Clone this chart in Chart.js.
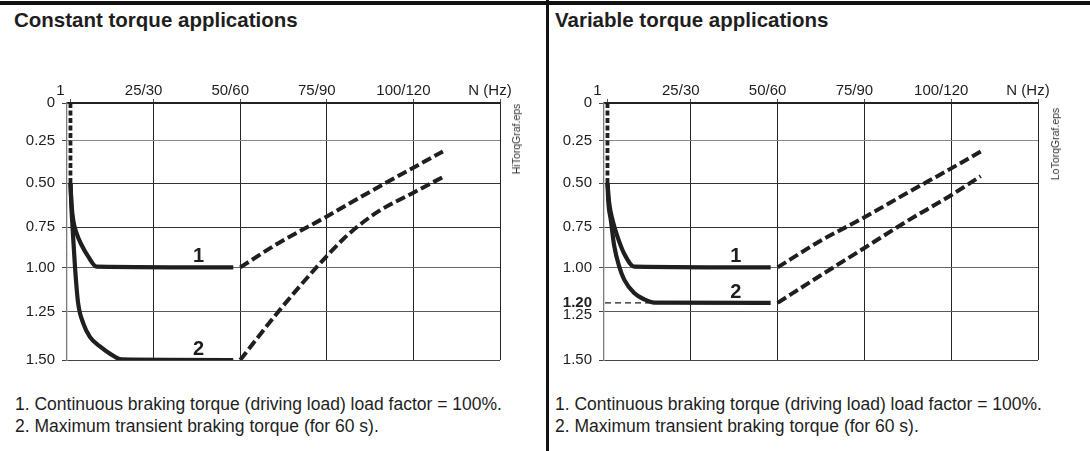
<!DOCTYPE html>
<html>
<head>
<meta charset="utf-8">
<script src="https://cdn.jsdelivr.net/npm/chart.js@4.4.1/dist/chart.umd.min.js"></script>
<style>
html,body{margin:0;padding:0;background:#fff;}
body{width:1090px;height:451px;position:relative;overflow:hidden;font-family:"Liberation Sans",Arial,Helvetica,sans-serif;color:#1e1e1e;}
.topline{position:absolute;left:0;top:1px;width:1090px;height:4px;background:#111;}
.divider{position:absolute;left:546px;top:0;width:3px;height:451px;background:#111;}
.title{position:absolute;top:8px;font-weight:bold;font-size:20.5px;line-height:24px;white-space:nowrap;}
.notes{position:absolute;top:394px;font-size:17.5px;line-height:21.5px;white-space:nowrap;}
.eps{position:absolute;font-size:10.5px;line-height:12px;color:#333;white-space:nowrap;transform:translate(-50%,-50%) rotate(-90deg);}
canvas{position:absolute;top:60px;}
</style>
</head>
<body>
<div class="topline"></div>
<div class="divider"></div>
<div class="title" style="left:14px;">Constant torque applications</div>
<div class="title" style="left:555px;">Variable torque applications</div>
<canvas id="ct" width="546" height="320" style="left:0px;width:546px;height:320px;"></canvas>
<canvas id="vt" width="541" height="320" style="left:549px;width:541px;height:320px;"></canvas>
<div class="eps" style="left:516px;top:139px;">HiTorqGraf.eps</div>
<div class="eps" style="left:1055px;top:144px;">LoTorqGraf.eps</div>
<div class="notes" style="left:15px;">1. Continuous braking torque (driving load) load factor = 100%.<br>2. Maximum transient braking torque (for 60 s).</div>
<div class="notes" style="left:555px;">1. Continuous braking torque (driving load) load factor = 100%.<br>2. Maximum transient braking torque (for 60 s).</div>
<script>
// ---------------- data ----------------
const xTickValues = [1, 25, 50, 75, 100, 125];
const xTickLabels = ['1', '25/30', '50/60', '75/90', '100/120', 'N (Hz)'];

const yTickValuesCT = [0, 0.25, 0.5, 0.75, 1.0, 1.25, 1.5];
const yTickLabelsCT = ['0', '0.25', '0.50', '0.75', '1.00', '1.25', '1.50'];
const yTickValuesVT = [0, 0.25, 0.5, 0.75, 1.0, 1.2, 1.25, 1.5];
const yTickLabelsVT = ['0', '0.25', '0.50', '0.75', '1.00', '1.20', '1.25', '1.50'];

// [frequency, torque factor]
const lowSpeedLimit = [[1, 0], [1, 0.5]];

const ctCurve1Solid  = [[1, 0.5], [1.29, 0.614], [1.78, 0.709], [2.73, 0.787], [4.17, 0.86], [6.1, 0.932], [8.5, 0.995], [48, 1.0]];
const ctCurve2Solid  = [[1, 0.5], [1.3, 0.65], [1.6, 0.75], [2.3, 0.995], [3.2, 1.2], [4.7, 1.31], [6.6, 1.38], [9.5, 1.43], [12.8, 1.472], [15.7, 1.497], [48, 1.5]];
const ctCurve1Dashed = [[50, 1.0], [61, 0.85], [75, 0.69], [87, 0.555], [100, 0.41], [108.5, 0.315]];
const ctCurve2Dashed = [[50, 1.5], [61, 1.25], [72, 1.0], [80, 0.82], [85, 0.73], [90, 0.66], [100, 0.555], [108.5, 0.465]];

const vtCurve1Solid  = [[1, 0.5], [1.5, 0.614], [2.44, 0.709], [3.88, 0.81], [5.81, 0.915], [8.69, 0.995], [48, 1.0]];
const vtCurve2Solid  = [[1, 0.5], [1.25, 0.61], [1.95, 0.709], [2.93, 0.865], [4.37, 0.994], [5.81, 1.069], [8.69, 1.145], [11.57, 1.18], [14.45, 1.199], [48, 1.2]];
const vtCurve1Dashed = [[50, 1.0], [62, 0.84], [75, 0.695], [87, 0.56], [99.5, 0.42], [108.5, 0.315]];
const vtCurve2Dashed = [[50, 1.2], [62, 1.05], [75, 0.88], [87, 0.72], [99.5, 0.575], [108.5, 0.46]];
const vtPeakRef      = [[0.3, 1.2], [13.6, 1.2]];

const ctTags = [{text: '1', x: 38, y: 1.0}, {text: '2', x: 38, y: 1.5}];
const vtTags = [{text: '1', x: 38, y: 1.0}, {text: '2', x: 38, y: 1.2}];

// ---------------- axis geometry (printed grid spacing of the original) ----------------
const warpValues = [0, 0.25, 0.5, 0.75, 1.0, 1.25, 1.5];
const warpFracs = [0, 37.4, 80, 124, 164.4, 208.7, 257].map(p => p / 257);

function interp(v, xs, ys) {
  let i = 0;
  if (v <= xs[0]) i = 0;
  else if (v >= xs[xs.length - 1]) i = xs.length - 2;
  else { while (v > xs[i + 1]) i++; }
  const t = (v - xs[i]) / (xs[i + 1] - xs[i]);
  return ys[i] + t * (ys[i + 1] - ys[i]);
}

class WarpedLinearScale extends Chart.LinearScale {
  getPixelForValue(value) {
    if (value === null || value === undefined || isNaN(value)) return NaN;
    return this.getPixelForDecimal(interp(value, warpValues, warpFracs));
  }
  getValueForPixel(pixel) {
    return interp(this.getDecimalForPixel(pixel), warpFracs, warpValues);
  }
}
WarpedLinearScale.id = 'warpedLinear';
WarpedLinearScale.defaults = Chart.LinearScale.defaults;
Chart.register(WarpedLinearScale);

Chart.defaults.font.family = '"Liberation Sans", Arial, Helvetica, sans-serif';
Chart.defaults.color = '#1e1e1e';

const curveTagPlugin = {
  id: 'curveTags',
  afterDatasetsDraw(chart, args, opts) {
    const {ctx} = chart;
    const x = chart.scales.x, y = chart.scales.y;
    ctx.save();
    ctx.font = 'bold 20px "Liberation Sans", Arial, sans-serif';
    ctx.fillStyle = '#1e1e1e';
    ctx.textAlign = 'center';
    ctx.textBaseline = 'alphabetic';
    (opts.items || []).forEach(it => {
      ctx.fillText(it.text, x.getPixelForValue(it.x), y.getPixelForValue(it.y) - 5);
    });
    ctx.restore();
  }
};

const LINE = '#1f1f1f';
function solid(data) {
  return {data, borderColor: LINE, borderWidth: 4.2, pointRadius: 0, fill: false, cubicInterpolationMode: 'monotone'};
}
function dashed(data) {
  return {data, borderColor: LINE, borderWidth: 4, borderDash: [10, 4], pointRadius: 0, fill: false, cubicInterpolationMode: 'monotone'};
}
function limitLine(data) {
  return {data, borderColor: LINE, borderWidth: 3.8, borderDash: [5, 2.5], pointRadius: 0, fill: false};
}
function thinRef(data) {
  return {data, borderColor: LINE, borderWidth: 1.3, borderDash: [6, 4], pointRadius: 0, fill: false};
}

function hGridColor(v) {
  const map = {0: '#222', 0.25: '#8a8a8a', 0.5: '#333', 0.75: '#333', 1: '#666', 1.25: '#5a5a5a', 1.5: '#444'};
  if (v === 1.2) return 'rgba(0,0,0,0)';
  return map[v] || '#444';
}

function makeChart(id, datasets, yVals, yLabels, tags, yAxisWidth, padRight, boldVal, lowerVal) {
  return new Chart(document.getElementById(id), {
    type: 'line',
    data: {datasets},
    options: {
      responsive: false,
      animation: false,
      events: [],
      layout: {padding: {left: 0, right: padRight, top: 0, bottom: 20}},
      plugins: {legend: {display: false}, tooltip: {enabled: false}, curveTags: {items: tags}},
      scales: {
        x: {
          type: 'linear', position: 'top', min: 0, max: 125,
          afterBuildTicks: s => { s.ticks = xTickValues.map(v => ({value: v})); },
          afterFit: s => { s.height = 43; },
          ticks: {
            autoSkip: false, maxRotation: 0, minRotation: 0, padding: -1, labelOffset: -10,
            color: '#1e1e1e', font: {size: 15},
            callback: (v, i) => xTickLabels[i]
          },
          grid: {
            color: c => (c.tick && c.tick.value === 1) ? 'rgba(0,0,0,0)' : '#262626',
            lineWidth: 1, drawTicks: true, tickLength: 4, tickColor: '#555'
          },
          border: {display: true, color: '#222', width: 1.2}
        },
        y: {
          type: 'warpedLinear', reverse: true, min: 0, max: 1.5,
          afterBuildTicks: s => { s.ticks = yVals.map(v => ({value: v})); },
          afterFit: s => { s.width = yAxisWidth; },
          ticks: {
            autoSkip: false, padding: 7, color: '#1e1e1e',
            font: c => {
              const v = c.tick ? c.tick.value : null;
              return {size: 15, weight: v === boldVal ? 'bold' : 'normal', lineHeight: v === lowerVal ? 0.4 : 1.2};
            },
            callback: (v, i) => (v === lowerVal ? ['', yLabels[i]] : yLabels[i])
          },
          grid: {
            color: c => hGridColor(c.tick ? c.tick.value : 0),
            lineWidth: 1, drawTicks: true, tickLength: 5,
            tickColor: c => (c.tick && c.tick.value === 1.2) ? 'rgba(0,0,0,0)' : '#444'
          },
          border: {display: true, color: '#7a7a7a', width: 1.3}
        }
      }
    },
    plugins: [curveTagPlugin]
  });
}

makeChart('ct', [
  limitLine(lowSpeedLimit),
  solid(ctCurve1Solid),
  solid(ctCurve2Solid),
  dashed(ctCurve1Dashed),
  dashed(ctCurve2Dashed)
], yTickValuesCT, yTickLabelsCT, ctTags, 67, 46, null, null);

makeChart('vt', [
  thinRef(vtPeakRef),
  limitLine(lowSpeedLimit),
  solid(vtCurve1Solid),
  solid(vtCurve2Solid),
  dashed(vtCurve1Dashed),
  dashed(vtCurve2Dashed)
], yTickValuesVT, yTickLabelsVT, vtTags, 55, 52, 1.2, 1.25);
</script>
</body>
</html>
